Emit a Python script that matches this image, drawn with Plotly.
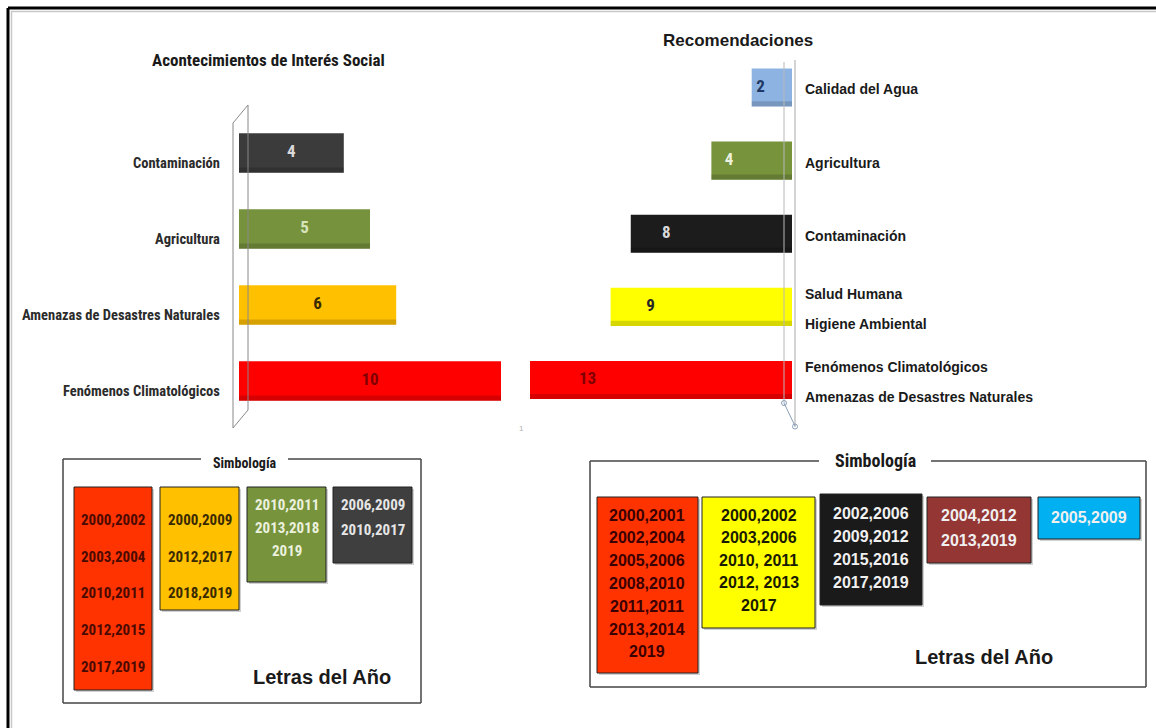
import plotly.graph_objects as go

# ---------------- data ----------------
left_title = "Acontecimientos de Interés Social"
left_categories = ["Contaminación", "Agricultura", "Amenazas de Desastres Naturales", "Fenómenos Climatológicos"]
left_values = [4, 5, 6, 10]
left_colors = ["#3b3b3b", "#76923c", "#ffc000", "#ff0000"]
left_text_colors = ["#d9d9d9", "#d8e4bc", "#3a2a00", "#7f0000"]

right_title = "Recomendaciones"
right_categories = ["Calidad del Agua", "Agricultura", "Contaminación",
                    "Salud Humana<br>Higiene Ambiental",
                    "Fenómenos Climatológicos<br>Amenazas de Desastres Naturales"]
right_values = [2, 4, 8, 9, 13]
right_colors = ["#8db3e2", "#77933c", "#1c1c1c", "#ffff00", "#ff0000"]
right_text_colors = ["#1f3864", "#ebf1de", "#d9d9d9", "#262626", "#7f0000"]

legend_title = "Simbología"
legend_caption = "Letras del Año"
left_legend_years = [
    ["2000,2002", "2003,2004", "2010,2011", "2012,2015", "2017,2019"],
    ["2000,2009", "2012,2017", "2018,2019"],
    ["2010,2011", "2013,2018", "2019"],
    ["2006,2009", "2010,2017"],
]
left_legend_colors = ["#ff3300", "#ffc000", "#77933c", "#3f3f3f"]
left_legend_text_colors = ["#4a0a00", "#3a2a00", "#ebf1de", "#e6e6e6"]

right_legend_years = [
    ["2000,2001", "2002,2004", "2005,2006", "2008,2010", "2011,2011", "2013,2014", "2019"],
    ["2000,2002", "2003,2006", "2010, 2011", "2012, 2013", "2017"],
    ["2002,2006", "2009,2012", "2015,2016", "2017,2019"],
    ["2004,2012", "2013,2019"],
    ["2005,2009"],
]
right_legend_colors = ["#ff3300", "#ffff00", "#1a1a1a", "#943634", "#00b0f0"]
right_legend_text_colors = ["#3b0000", "#1a1a00", "#f0f0f0", "#f0f0f0", "#f0f0f0"]

# ---------------- layout helpers ----------------
W, H = 1156, 728
def px(x):
    return x / W
def py(y):
    return 1 - y / H

NARROW = "Liberation Sans Narrow, Arial Narrow, Roboto Condensed, DejaVu Sans Condensed, sans-serif"
SANS = "Liberation Sans, Arial, sans-serif"

fig = go.Figure()

BW = 0.52
def add_bars(values, cats, colors, xa, ya):
    fig.add_trace(go.Bar(orientation="h", x=values, y=cats, marker=dict(color=colors, line=dict(width=0)),
                         width=BW, offset=-BW / 2, xaxis=xa, yaxis=ya, hoverinfo="x+y"))
    # subtle cylinder shading along the lower edge
    fig.add_trace(go.Bar(orientation="h", x=values, y=cats, marker=dict(color="rgba(0,0,0,0.16)", line=dict(width=0)),
                         width=0.07, offset=BW / 2 - 0.07, xaxis=xa, yaxis=ya, hoverinfo="skip"))

add_bars(left_values, left_categories, left_colors, "x", "y")
add_bars(right_values, right_categories, right_colors, "x2", "y2")

fig.add_trace(go.Scatter(x=[v / 2 for v in left_values], y=left_categories, mode="text",
                         text=[str(v) for v in left_values],
                         textfont=dict(family=NARROW, size=17, color=left_text_colors, weight="bold"),
                         xaxis="x", yaxis="y", hoverinfo="skip"))
fig.add_trace(go.Scatter(x=[v * 0.78 for v in right_values], y=right_categories, mode="text",
                         text=[str(v) for v in right_values],
                         textfont=dict(family=NARROW, size=17, color=right_text_colors, weight="bold"),
                         xaxis="x2", yaxis="y2", hoverinfo="skip"))

shapes = []
annotations = []

def line(x0, y0, x1, y1, color="#888", width=1):
    shapes.append(dict(type="line", xref="paper", yref="paper", x0=px(x0), y0=py(y0), x1=px(x1), y1=py(y1),
                       line=dict(color=color, width=width)))

def text(x, y, s, size, family=SANS, color="#1a1a1a", anchor="center", weight="bold"):
    annotations.append(dict(xref="paper", yref="paper", x=px(x), y=py(y), text=s, showarrow=False,
                            xanchor=anchor, yanchor="middle",
                            font=dict(family=family, size=size, color=color, weight=weight)))

# outer frame
line(8, 8, 1160, 8, "#000", 3)
line(8, 8, 8, 735, "#000", 3)
line(11, 11.5, 1160, 11.5, "#c8c8c8", 1.5)
line(11.5, 11, 11.5, 735, "#c8c8c8", 1.5)

# left 3D wall
line(248, 105, 233, 123)
line(233, 123, 233, 428)
line(233, 428, 248, 410)
line(248, 105, 248, 410)

# right axis lines
line(795, 60, 795, 427, "#a8a8a8")
line(784, 62, 784, 403, "#b8b8b8")
line(784, 403, 795, 426, "#8aa0b8")
shapes.append(dict(type="circle", xref="paper", yref="paper", x0=px(781.5), x1=px(786.5), y0=py(405.5), y1=py(400.5),
                   line=dict(color="#8aa0b8", width=1)))
shapes.append(dict(type="circle", xref="paper", yref="paper", x0=px(792.5), x1=px(797.5), y0=py(429), y1=py(424),
                   line=dict(color="#8aa0b8", width=1)))
text(521, 428, "1", 8, family=SANS, color="#b0b0b0", weight="normal")

# titles
text(268, 60, left_title, 17, family=NARROW, color="#1a1a1a")
text(738, 40, right_title, 17, family=SANS, color="#1a1a1a")

# category labels (left: right-aligned, slightly below bar centre)
for i, c in enumerate(left_categories):
    annotations.append(dict(xref="paper", yref="y", x=px(222), y=i, text=c, showarrow=False,
                            xanchor="right", yanchor="middle", yshift=-10,
                            font=dict(family=NARROW, size=14.5, color="#2b2b2b", weight="bold")))
for i, c in enumerate(right_categories):
    parts = c.split("<br>")
    shifts = [-2] if len(parts) == 1 else [13, -17]
    for p, s in zip(parts, shifts):
        annotations.append(dict(xref="paper", yref="y2", x=px(803), y=i, text=p, showarrow=False,
                                xanchor="left", yanchor="middle", yshift=s,
                                font=dict(family=SANS, size=14, color="#1a1a1a", weight="bold")))

# ---------------- legend panels ----------------
def legend_frame(x0, y0, x1, y1, gap0, gap1, title_size, title_family, title_dy):
    line(x0, y0, gap0, y0, "#444", 1.5)
    line(gap1, y0, x1, y0, "#444", 1.5)
    line(x0, y0, x0, y1, "#444", 1.5)
    line(x1, y0, x1, y1, "#444", 1.5)
    line(x0, y1, x1, y1, "#444", 1.5)
    text((gap0 + gap1) / 2, y0 + title_dy, legend_title, title_size, family=title_family, color="#1a1a1a")

def legend_boxes(boxes, years, colors, tcolors, first, spacing, size, family):
    for (x0, y0, x1, y1), ys, col, tc, f, sp in zip(boxes, years, colors, tcolors, first, spacing):
        shapes.append(dict(type="rect", xref="paper", yref="paper", x0=px(x0 + 2), x1=px(x1 + 2), y0=py(y1 + 2), y1=py(y0 + 2),
                           fillcolor="rgba(0,0,0,0.18)", line=dict(width=0)))
        shapes.append(dict(type="rect", xref="paper", yref="paper", x0=px(x0), x1=px(x1), y0=py(y1), y1=py(y0),
                           fillcolor=col, line=dict(color="#222", width=1)))
        for k, s in enumerate(ys):
            text((x0 + x1) / 2, f + k * sp, s, size, family=family, color=tc)

legend_frame(63, 459, 421, 703, 201, 288, 14, NARROW, 4)
legend_boxes([(74, 487, 152, 690), (160, 487, 239, 610), (247, 487, 326, 582), (333, 487, 412, 563)],
             left_legend_years, left_legend_colors, left_legend_text_colors,
             [520, 520, 505, 505], [36.7, 36.5, 23, 25], 15, NARROW)
text(322, 677, legend_caption, 20, family=SANS, color="#1a1a1a")

legend_frame(590, 461, 1146, 687, 819, 931, 18, NARROW, -1)
legend_boxes([(597, 497, 698, 673), (702, 497, 815, 628), (820, 494, 922, 605), (927, 497, 1031, 563), (1038, 497, 1140, 539)],
             right_legend_years, right_legend_colors, right_legend_text_colors,
             [515, 515, 513, 515, 517], [22.8, 22.5, 23.3, 25, 22], 16, SANS)
text(984, 657, legend_caption, 20, family=SANS, color="#1a1a1a")

fig.update_layout(
    width=W, height=H,
    margin=dict(l=0, r=0, t=0, b=0),
    paper_bgcolor="white", plot_bgcolor="rgba(0,0,0,0)",
    showlegend=False, barmode="overlay",
    xaxis=dict(domain=[px(239), px(501)], range=[0, 10], visible=False, fixedrange=True),
    yaxis=dict(domain=[py(419), py(115)], type="category", categoryorder="array", categoryarray=left_categories,
               range=[len(left_categories) - 0.5, -0.5], visible=False, anchor="x"),
    xaxis2=dict(domain=[px(530), px(792)], range=[13, 0], visible=False, anchor="y2"),
    yaxis2=dict(domain=[py(416.6), py(50.9)], type="category", categoryorder="array", categoryarray=right_categories,
                range=[len(right_categories) - 0.5, -0.5], visible=False, anchor="x2"),
    shapes=shapes, annotations=annotations,
)

fig.write_html("out.html", config={"displayModeBar": False},
               post_script="document.body.style.margin='0';document.body.style.overflow='hidden';")
